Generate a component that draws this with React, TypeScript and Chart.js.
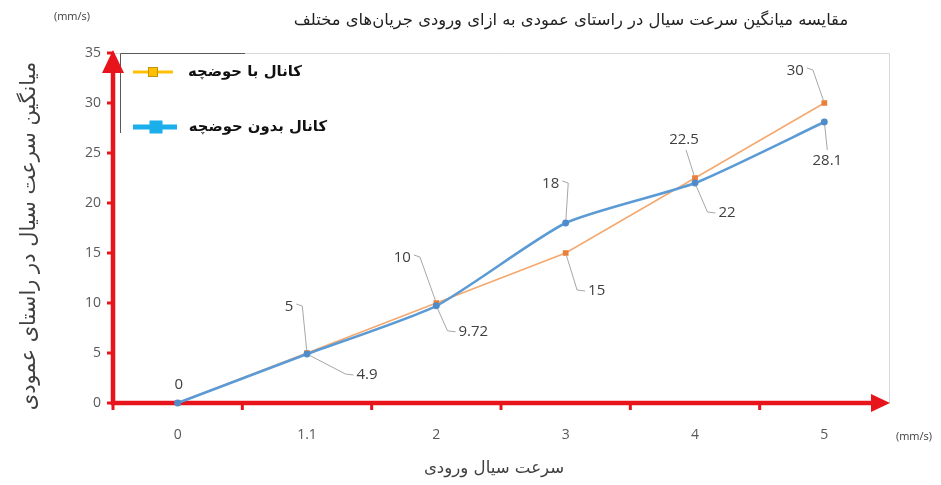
import React, { useEffect, useRef } from "react";
import { Chart, registerables } from "chart.js";

Chart.register(...registerables);

// Inlet flow velocity categories (mm/s)
const categories = ["0", "1.1", "2", "3", "4", "5"];
// Mean vertical fluid velocity (mm/s)
const withBasin = [0, 5, 10, 15, 22.5, 30];
const withoutBasin = [0, 4.9, 9.72, 18, 22, 28.1];

const seriesNames = ["کانال با حوضچه", "کانال بدون حوضچه"];
const chartTitle = "مقایسه میانگین سرعت سیال در راستای عمودی به ازای ورودی جریان‌های مختلف";
const yTitle = "میانگین سرعت سیال در راستای عمودی";
const xTitle = "سرعت سیال ورودی";
const unitLabel = "(mm/s)";

const yMin = 0;
const yMax = 35;
const yStep = 5;

// Callout placement for each value label: [dx, dy, leader side]
type Callout = [number, number, string] | null;
const withBasinCallouts: Callout[] = [
  [1, -18, "none"],
  [-18, -46, "right"],
  [-34, -45, "right"],
  [31, 38, "left"],
  [-11, -38, "bottom"],
  [-29, -32, "right"],
];
const withoutBasinCallouts: Callout[] = [
  null,
  [60, 21, "left"],
  [37, 26, "left"],
  [-15, -39, "right"],
  [32, 30, "left"],
  [3, 39, "top"],
];

const RED = "#E8141C";
const PERSIAN_FONT = '"DejaVu Sans", "Noto Sans", sans-serif';
const NUM_FONT = '"Open Sans", "Liberation Sans", sans-serif';

function fitFont(ctx: CanvasRenderingContext2D, text: string, weight: string, base: number, target: number) {
  ctx.font = `${weight} ${base}px ${PERSIAN_FONT}`;
  const w = ctx.measureText(text).width;
  const size = Math.min(base, (base * target) / w);
  ctx.font = `${weight} ${size.toFixed(1)}px ${PERSIAN_FONT}`;
}

function drawCallout(
  ctx: CanvasRenderingContext2D,
  px: number,
  py: number,
  text: string,
  c: Callout
) {
  if (!c) return;
  const [dx, dy, side] = c;
  const lx = px + dx;
  const ly = py + dy;
  ctx.save();
  ctx.font = `15px ${NUM_FONT}`;
  ctx.fillStyle = "#404040";
  ctx.textAlign = "center";
  ctx.textBaseline = "middle";
  ctx.fillText(text, lx, ly);
  const w = ctx.measureText(text).width;
  if (side !== "none") {
    let sx = lx, sy = ly, kx = lx, ky = ly;
    if (side === "right") {
      sx = lx + w / 2 + 3; sy = ly - 3; kx = sx + 6; ky = ly - 1;
    } else if (side === "left") {
      sx = lx - w / 2 - 3; sy = ly; kx = sx - 8; ky = ly - 1;
    } else if (side === "bottom") {
      sx = lx + 2; sy = ly + 10; kx = sx; ky = sy;
    } else if (side === "top") {
      sx = lx; sy = ly - 11; kx = sx; ky = sy;
    }
    const vx = px - kx;
    const vy = py - ky;
    const len = Math.hypot(vx, vy) || 1;
    const ex = px - (vx / len) * 3;
    const ey = py - (vy / len) * 3;
    ctx.strokeStyle = "#A6A6A6";
    ctx.lineWidth = 1;
    ctx.beginPath();
    ctx.moveTo(sx, sy);
    ctx.lineTo(kx, ky);
    ctx.lineTo(ex, ey);
    ctx.stroke();
  }
  ctx.restore();
}

const framePlugin = {
  id: "frame",
  beforeDatasetsDraw(chart: any) {
    const { ctx, chartArea } = chart;
    const { left, right, top, bottom } = chartArea;
    const y = chart.scales.y;
    ctx.save();
    // light plot border
    ctx.strokeStyle = "#D9D9D9";
    ctx.lineWidth = 1;
    ctx.beginPath();
    ctx.moveTo(left, top + 0.5);
    ctx.lineTo(right + 0.5, top + 0.5);
    ctx.lineTo(right + 0.5, bottom);
    ctx.stroke();

    // legend box edges
    ctx.strokeStyle = "#595959";
    ctx.beginPath();
    ctx.moveTo(left + 7.5, top + 80);
    ctx.lineTo(left + 7.5, top + 0.5);
    ctx.lineTo(left + 132, top + 0.5);
    ctx.stroke();

    // red axes with arrows
    ctx.strokeStyle = RED;
    ctx.fillStyle = RED;
    ctx.lineWidth = 4.5;
    ctx.lineCap = "butt";
    ctx.beginPath();
    ctx.moveTo(left, bottom + 2);
    ctx.lineTo(left, top + 10);
    ctx.stroke();
    ctx.beginPath();
    ctx.moveTo(left - 2, bottom);
    ctx.lineTo(right - 10, bottom);
    ctx.stroke();

    ctx.beginPath();
    ctx.moveTo(left, top - 3);
    ctx.lineTo(left - 11, top + 20);
    ctx.lineTo(left + 11, top + 20);
    ctx.closePath();
    ctx.fill();

    ctx.beginPath();
    ctx.moveTo(right + 1, bottom);
    ctx.lineTo(right - 18, bottom - 9);
    ctx.lineTo(right - 18, bottom + 9);
    ctx.closePath();
    ctx.fill();

    // y tick marks
    ctx.lineWidth = 3;
    for (let v = yMin; v <= yMax; v += yStep) {
      const py = y.getPixelForValue(v);
      ctx.beginPath();
      ctx.moveTo(left - 6, py);
      ctx.lineTo(left, py);
      ctx.stroke();
    }
    // x tick marks at category boundaries
    const n = categories.length;
    const band = (right - left) / n;
    for (let i = 0; i < n; i++) {
      const px = left + band * i;
      ctx.beginPath();
      ctx.moveTo(px, bottom);
      ctx.lineTo(px, bottom + 7);
      ctx.stroke();
    }
    ctx.restore();
  },
  afterDatasetsDraw(chart: any) {
    const { ctx, chartArea } = chart;
    const { left, top } = chartArea;
    const metaA = chart.getDatasetMeta(0);
    const metaB = chart.getDatasetMeta(1);

    withBasin.forEach((v, i) => {
      const pt = metaA.data[i];
      drawCallout(ctx, pt.x, pt.y, String(v), withBasinCallouts[i]);
    });
    withoutBasin.forEach((v, i) => {
      const pt = metaB.data[i];
      drawCallout(ctx, pt.x, pt.y, String(v), withoutBasinCallouts[i]);
    });

    ctx.save();
    // legend
    const lgX = left + 20;
    const rows = [
      { y: top + 19, color: "#FFC000", border: "#C9930A", lw: 3, size: 9, textRight: 302, width: 114 },
      { y: top + 74, color: "#1AAEEB", border: "#1AAEEB", lw: 5, size: 12, textRight: 327, width: 138 },
    ];
    rows.forEach((r, i) => {
      ctx.strokeStyle = r.color;
      ctx.lineWidth = r.lw;
      ctx.beginPath();
      ctx.moveTo(lgX, r.y);
      ctx.lineTo(lgX + 40 + i * 4, r.y);
      ctx.stroke();
      ctx.fillStyle = r.color;
      const cx = lgX + 20 + i * 3;
      ctx.fillRect(cx - r.size / 2, r.y - r.size / 2, r.size, r.size);
      ctx.strokeStyle = r.border;
      ctx.lineWidth = 1;
      ctx.strokeRect(cx - r.size / 2, r.y - r.size / 2, r.size, r.size);
      fitFont(ctx, seriesNames[i], "bold", 16, r.width);
      ctx.fillStyle = "#111111";
      ctx.textAlign = "right";
      ctx.textBaseline = "middle";
      ctx.direction = "rtl";
      ctx.fillText(seriesNames[i], r.textRight, r.y);
      ctx.direction = "ltr";
    });

    // title
    ctx.fillStyle = "#1f1f1f";
    ctx.textAlign = "center";
    ctx.textBaseline = "middle";
    ctx.direction = "rtl";
    fitFont(ctx, chartTitle, "normal", 20, 556);
    ctx.fillText(chartTitle, 571, 21);

    // x axis title
    ctx.fillStyle = "#404040";
    fitFont(ctx, xTitle, "normal", 22, 140);
    ctx.fillText(xTitle, 494, 469);

    // y axis title
    ctx.save();
    ctx.translate(30, 236);
    ctx.rotate(-Math.PI / 2);
    fitFont(ctx, yTitle, "normal", 21, 365);
    ctx.fillText(yTitle, 0, 0);
    ctx.restore();
    ctx.direction = "ltr";

    // unit labels
    ctx.fillStyle = "#404040";
    ctx.font = `11px ${NUM_FONT}`;
    ctx.textAlign = "center";
    ctx.fillText(unitLabel, 72, 17);
    ctx.fillText(unitLabel, 914, 437);
    ctx.restore();
  },
};

export default function App() {
  const canvasRef = useRef<HTMLCanvasElement | null>(null);

  useEffect(() => {
    const canvas = canvasRef.current;
    if (!canvas) return;
    const chart = new Chart(canvas, {
      type: "line",
      data: {
        labels: categories,
        datasets: [
          {
            label: seriesNames[0],
            data: withBasin,
            borderColor: "#F4A86E",
            backgroundColor: "#E8803A",
            borderWidth: 1.5,
            pointStyle: "rect",
            pointRadius: 3,
            pointBackgroundColor: "#E8803A",
            pointBorderColor: "#E8803A",
            tension: 0,
            clip: false,
            order: 2,
          },
          {
            label: seriesNames[1],
            data: withoutBasin,
            borderColor: "#5B9BD5",
            backgroundColor: "#4F8CC9",
            borderWidth: 2.5,
            pointStyle: "circle",
            pointRadius: 2.2,
            pointBackgroundColor: "#4F8CC9",
            pointBorderColor: "#4F8CC9",
            tension: 0.2,
            clip: false,
            order: 1,
          },
        ],
      },
      options: {
        responsive: false,
        animation: false,
        devicePixelRatio: 1,
        layout: { padding: { top: 53, right: 52, left: 0, bottom: 0 } },
        plugins: {
          legend: { display: false },
          title: { display: false },
          tooltip: { enabled: false },
        },
        scales: {
          x: {
            type: "category",
            offset: true,
            grid: { display: false, drawTicks: false, offset: true },
            border: { display: false },
            ticks: {
              color: "#595959",
              font: { family: NUM_FONT, size: 14 },
              padding: 24,
              maxRotation: 0,
            },
            afterFit(scale: any) {
              scale.height = 82;
            },
          },
          y: {
            min: yMin,
            max: yMax,
            grid: { display: false, drawTicks: false },
            border: { display: false },
            ticks: {
              stepSize: yStep,
              color: "#595959",
              font: { family: NUM_FONT, size: 14 },
              padding: 12,
            },
            afterFit(scale: any) {
              scale.width = 113;
            },
          },
        },
      },
      plugins: [framePlugin],
    });
    return () => chart.destroy();
  }, []);

  return (
    <div style={{ position: "fixed", left: 0, top: 0, width: 941, height: 485, background: "#ffffff" }}>
      <canvas ref={canvasRef} width={941} height={485} style={{ display: "block" }} />
    </div>
  );
}
